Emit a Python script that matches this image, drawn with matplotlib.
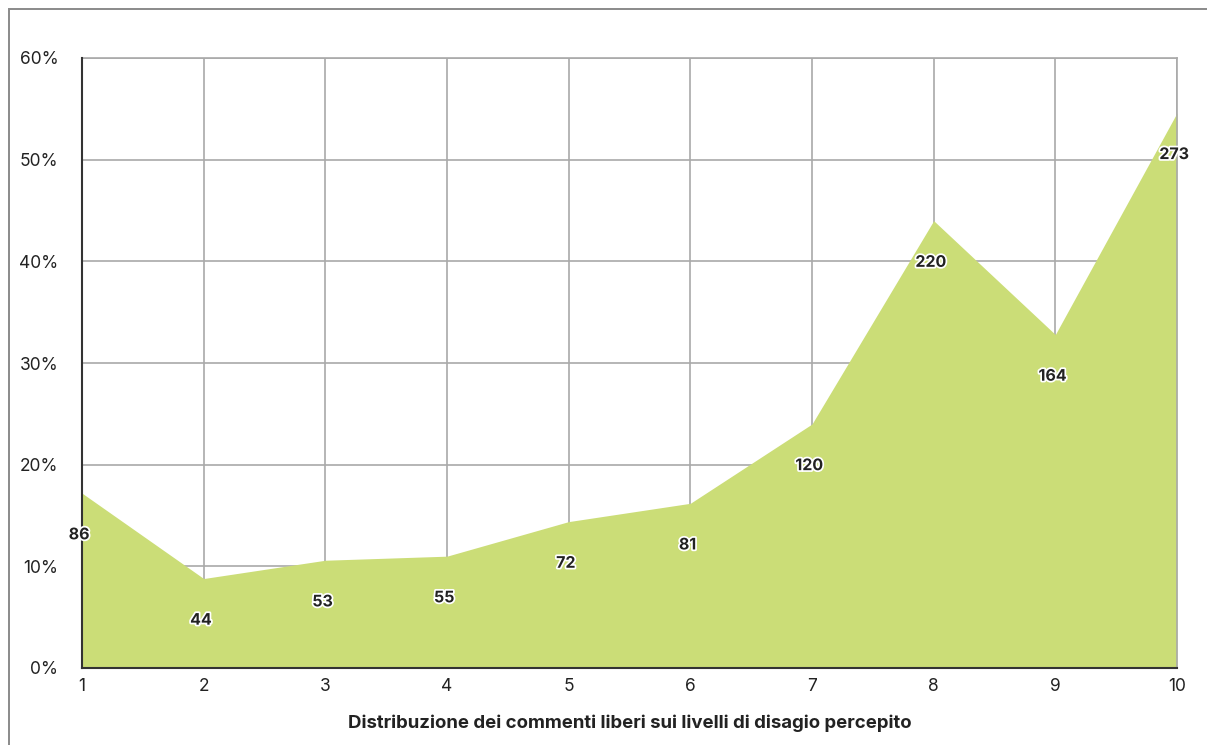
import matplotlib.pyplot as plt
import matplotlib.patheffects as pe
from matplotlib.patches import Rectangle

levels = [1, 2, 3, 4, 5, 6, 7, 8, 9, 10]
counts = [86, 44, 53, 55, 72, 81, 120, 220, 164, 273]
shares = [17.2, 8.8, 10.6, 11.0, 14.4, 16.2, 24.0, 44.0, 32.8, 54.6]
y_ticks = [0, 10, 20, 30, 40, 50, 60]

plt.rcParams["font.family"] = ["Inter", "DejaVu Sans"]

fig = plt.figure(figsize=(12.07, 7.45), dpi=100)
ax = fig.add_axes([82 / 1207, 77 / 745, 1095 / 1207, 610 / 745])

# outer frame, cut off at right and bottom edges
fig.patches.append(Rectangle((9 / 1207, -0.1), 1.2, (736 / 745) + 0.1,
                             transform=fig.transFigure, fill=False,
                             edgecolor="#8a8a8a", linewidth=1.4))

ax.fill_between(levels, shares, 0, color="#cbdd77", linewidth=0, zorder=2)

ax.set_xlim(1, 10)
ax.set_ylim(0, 60)
ax.set_xticks(levels)
ax.set_yticks(y_ticks)
ax.set_yticklabels([f"{v}%" for v in y_ticks])
ax.grid(True, color="#a9a9a9", linewidth=1.2, zorder=1)
ax.set_axisbelow(True)
ax.tick_params(length=0, labelsize=12.5, colors="#222222")
ax.tick_params(axis="y", pad=17)
ax.tick_params(axis="x", pad=7)

for side in ["top", "right"]:
    ax.spines[side].set_color("#a9a9a9")
    ax.spines[side].set_linewidth(1.2)
for side in ["left", "bottom"]:
    ax.spines[side].set_color("#333333")
    ax.spines[side].set_linewidth(1.5)
    ax.spines[side].set_zorder(3)

for x, y, n in zip(levels, shares, counts):
    ax.annotate(str(n), (x, y), xytext=(-2, -30), textcoords="offset points",
                ha="center", va="center", fontsize=11.5, fontweight="bold",
                color="#222222", zorder=4,
                path_effects=[pe.withStroke(linewidth=2.5, foreground="white")])

ax.set_xlabel("Distribuzione dei commenti liberi sui livelli di disagio percepito",
              fontsize=13.4, fontweight="bold", color="#222222", labelpad=14)

fig.savefig("out.png", dpi=100)
